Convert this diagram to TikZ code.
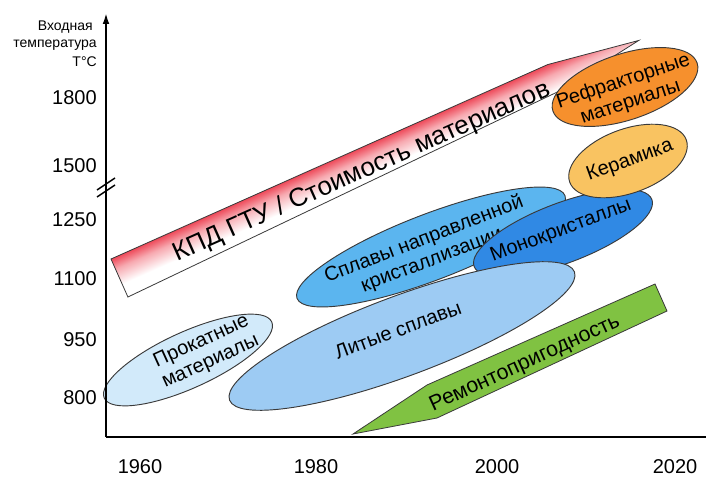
\documentclass[tikz,border=0pt]{standalone}
\usepackage{fontspec}
\setmainfont{Liberation Sans}
\usetikzlibrary{shapes.geometric,arrows.meta}
\definecolor{edgec}{HTML}{3A3A3A}
\definecolor{prokc}{HTML}{D2EAFA}
\definecolor{litc}{HTML}{9DCBF3}
\definecolor{splc}{HTML}{5BB5EF}
\definecolor{monoc}{HTML}{3089E4}
\definecolor{kerc}{HTML}{F9C361}
\definecolor{refc}{HTML}{F6902D}
\definecolor{greenc}{HTML}{80C242}
\definecolor{redc}{HTML}{EE4A5A}
\definecolor{pinkc}{HTML}{F7A9B0}
\pgfdeclareverticalshading{redfade}{100bp}{color(0bp)=(white); color(25bp)=(white); color(42bp)=(white); color(62bp)=(pinkc); color(75bp)=(redc); color(100bp)=(redc)}
\begin{document}
\begin{tikzpicture}[x=0.75pt,y=-0.75pt,
  blob/.style={ellipse, draw=edgec, line width=0.7pt, inner sep=0pt},
  lbl/.style={font=\fontsize{15}{16.5}\selectfont, align=center, inner sep=0pt},
  axlbl/.style={font=\fontsize{15}{18}\selectfont, anchor=east, inner sep=0pt},
  yrlbl/.style={font=\fontsize{15}{18}\selectfont, inner sep=0pt},
  hdr/.style={font=\fontsize{10.5}{12}\selectfont, anchor=east, inner sep=0pt},
  axisline/.style={line width=1.9pt, black}]
\useasboundingbox (0,0) rectangle (706,477);

% red arrow (local frame along the arrow)
\begin{scope}[transform canvas={shift={(111,259)}, rotate=24}]
\shade[draw=edgec, line width=0.6pt, shading=redfade]
  (0,0) -- (478,0) -- (571,15) -- (475,29) -- (0,41.6) -- cycle;
\end{scope}
\node[font=\fontsize{19.5}{22}\selectfont, rotate=24, inner sep=0pt] (kpd) at (362,172) {КПД ГТУ / Стоимость материалов};

% green arrow
\draw[draw=edgec, line width=0.6pt, fill=greenc]
  (353,434) -- (427,385) -- (655,284) -- (667,311) -- (437,418) -- cycle;
\node[lbl, font=\fontsize{16}{18}\selectfont, rotate=24.5] (rem) at (525,364) {Ремонтопригодность};

% ellipses
\node[blob, fill=splc, minimum width=287*0.75pt, minimum height=66*0.75pt, rotate=21] (spl) at (431,247) {};
\node[lbl, rotate=21] (spltxt) at (428,250) {Сплавы направленной\\кристаллизации};

\node[blob, fill=monoc, minimum width=190*0.75pt, minimum height=60*0.75pt, rotate=20.7] (mono) at (563,233) {};
\node[lbl, rotate=20.7] (monotxt) at (561,231) {Монокристаллы};

\node[blob, fill=kerc, minimum width=124*0.75pt, minimum height=64*0.75pt, rotate=20] (ker) at (628,161) {};
\node[lbl, rotate=20] (kertxt) at (630,161) {Керамика};

\node[blob, fill=refc, minimum width=152*0.75pt, minimum height=66*0.75pt, rotate=18.4] (ref) at (625,87) {};
\node[lbl, rotate=18.4] (reftxt) at (627,92) {Рефракторные\\материалы};

\node[blob, fill=litc, minimum width=368*0.75pt, minimum height=80*0.75pt, rotate=20.4] (lit) at (402,336) {};
\node[lbl, rotate=20.4] (littxt) at (398,330) {Литые сплавы};

\node[blob, fill=prokc, minimum width=184*0.75pt, minimum height=56*0.75pt, rotate=24.5] (prok) at (188,360) {};
\node[lbl, rotate=24.5] (proktxt) at (206,352) {Прокатные\\материалы};

% axes
\coordinate (O) at (106,437);
\coordinate (Ytop) at (106,12);
\coordinate (Xend) at (706,437);
\draw[axisline, -{Latex[length=9pt,width=5pt]}] (O) -- (Ytop);
\draw[axisline] (O) -- (Xend);
\draw[line width=1.1pt] (97,190) -- (115,178);
\draw[line width=1.1pt] (97,197) -- (115,185);

% y labels
\node[hdr] (h1) at (93,27) {Входная};
\node[hdr] (h2) at (97,45) {температура};
\node[hdr] (h3) at (97,62) {T°C};
\node[axlbl] (y1800) at (97,98) {1800};
\node[axlbl] (y1500) at (97,166) {1500};
\node[axlbl] (y1250) at (97,220) {1250};
\node[axlbl] (y1100) at (97,279) {1100};
\node[axlbl] (y950) at (97,340) {950};
\node[axlbl] (y800) at (97,398) {800};

% x labels
\node[yrlbl] (x1960) at (140,467) {1960};
\node[yrlbl] (x1980) at (316,467) {1980};
\node[yrlbl] (x2000) at (497,467) {2000};
\node[yrlbl] (x2020) at (675,467) {2020};
\end{tikzpicture}
\end{document}
